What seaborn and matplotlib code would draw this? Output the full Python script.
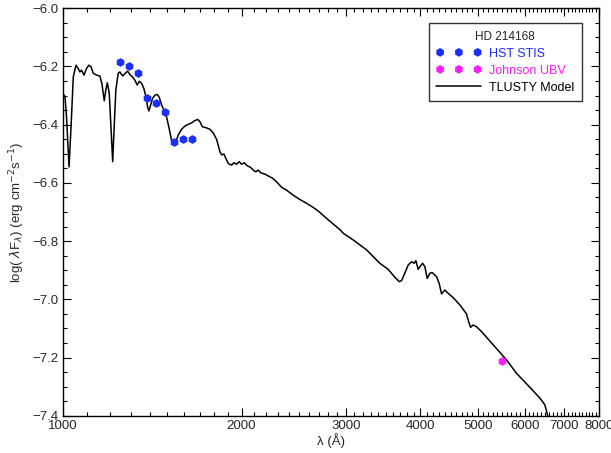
import numpy as np
import pandas as pd
import matplotlib
matplotlib.use("Agg")
import matplotlib.pyplot as plt
from matplotlib.ticker import FixedLocator, FixedFormatter, NullFormatter
import seaborn as sns

# TLUSTY model spectrum
model_wave = [1000, 1008, 1014, 1024, 1032, 1041, 1052, 1061, 1068, 1075, 1085, 1096, 1106,
              1115, 1125, 1140, 1154, 1163, 1174, 1181, 1188, 1197, 1205, 1213, 1220, 1228,
              1239, 1247, 1261, 1274, 1285, 1297, 1310, 1322, 1334, 1345, 1357, 1369, 1380,
              1389, 1396, 1405, 1416, 1429, 1441, 1453, 1467, 1480, 1495, 1510, 1524, 1538,
              1550, 1564, 1585, 1605, 1626, 1648, 1665, 1687, 1702, 1717, 1746, 1769, 1791,
              1816, 1839, 1851, 1868, 1882, 1899, 1924, 1942, 1962, 1982, 2000, 2021, 2044,
              2072, 2098, 2115, 2134, 2153, 2190, 2218, 2256, 2291, 2336, 2382, 2443, 2507,
              2573, 2640, 2702, 2800, 2928, 2968, 3085, 3249, 3420, 3533, 3626, 3687, 3721,
              3769, 3818, 3869, 3909, 3934, 3970, 3996, 4038, 4074, 4111, 4154, 4191, 4263,
              4306, 4346, 4402, 4459, 4546, 4666, 4788, 4819, 4864, 4914, 4978, 5077, 5311,
              5593, 5814, 6123, 6365, 6489, 6547, 6600]
model_flux = [-6.293, -6.304, -6.373, -6.545, -6.407, -6.236, -6.196, -6.207, -6.219, -6.213,
              -6.230, -6.207, -6.196, -6.201, -6.224, -6.230, -6.233, -6.258, -6.318, -6.281,
              -6.256, -6.293, -6.407, -6.527, -6.407, -6.281, -6.224, -6.219, -6.233, -6.224,
              -6.216, -6.228, -6.236, -6.247, -6.264, -6.251, -6.258, -6.276, -6.304, -6.339,
              -6.353, -6.333, -6.310, -6.299, -6.296, -6.306, -6.333, -6.350, -6.373, -6.413,
              -6.453, -6.467, -6.459, -6.436, -6.416, -6.405, -6.399, -6.394, -6.387, -6.382,
              -6.390, -6.407, -6.411, -6.416, -6.428, -6.451, -6.493, -6.504, -6.501, -6.516,
              -6.533, -6.539, -6.531, -6.536, -6.527, -6.536, -6.531, -6.541, -6.547, -6.558,
              -6.562, -6.556, -6.565, -6.570, -6.576, -6.584, -6.596, -6.615, -6.625, -6.642,
              -6.657, -6.670, -6.684, -6.699, -6.727, -6.760, -6.773, -6.796, -6.830, -6.876,
              -6.897, -6.924, -6.939, -6.936, -6.910, -6.882, -6.871, -6.876, -6.867, -6.897,
              -6.888, -6.876, -6.888, -6.928, -6.910, -6.908, -6.922, -6.945, -6.981, -6.968,
              -6.979, -6.994, -7.019, -7.050, -7.071, -7.096, -7.088, -7.094, -7.111, -7.156,
              -7.208, -7.254, -7.302, -7.339, -7.362, -7.391, -7.430]

# HST STIS photometry
stis_wave = [1247, 1293, 1339, 1387, 1436, 1487, 1540, 1595, 1652]
stis_flux = [-6.186, -6.198, -6.221, -6.309, -6.325, -6.357, -6.459, -6.449, -6.449]

# Johnson UBV photometry
ubv_wave = [5486]
ubv_flux = [-7.210]

model = pd.DataFrame({"wave": model_wave, "flux": model_flux})
stis = pd.DataFrame({"wave": stis_wave, "flux": stis_flux})
ubv = pd.DataFrame({"wave": ubv_wave, "flux": ubv_flux})

sns.set_style("ticks")
plt.rcParams["font.family"] = ["Liberation Sans", "DejaVu Sans"]

fig = plt.figure(figsize=(6.11, 4.53), dpi=100)
ax = fig.add_axes([0.103, 0.082, 0.877, 0.900])

blue = "#1a2eff"
magenta = "#ff1aff"

sns.lineplot(data=model, x="wave", y="flux", ax=ax, color="black", lw=1.1,
             label="TLUSTY Model", sort=False)
sns.scatterplot(data=stis, x="wave", y="flux", ax=ax, color=blue, marker="h",
                s=40, edgecolor=blue, linewidth=0, label="HST STIS", zorder=3)
sns.scatterplot(data=ubv, x="wave", y="flux", ax=ax, color=magenta, marker="h",
                s=40, edgecolor=magenta, linewidth=0, label="Johnson UBV", zorder=3)

ax.set_xscale("log")
ax.set_xlim(1000, 8000)
ax.set_ylim(-7.4, -6.0)

major_x = [1000, 2000, 3000, 4000, 5000, 6000, 7000, 8000]
minor_x = [w for w in range(1100, 8000, 100) if w not in major_x]
ax.xaxis.set_major_locator(FixedLocator(major_x))
ax.xaxis.set_major_formatter(FixedFormatter([str(w) for w in major_x]))
ax.xaxis.set_minor_locator(FixedLocator(minor_x))
ax.xaxis.set_minor_formatter(NullFormatter())

ax.set_yticks(np.arange(-7.4, -5.99, 0.2))
ax.set_yticklabels([f"{v:.1f}".replace("-", "\u2212") for v in np.arange(-7.4, -5.99, 0.2)])
ax.set_yticks(np.arange(-7.4, -5.99, 0.05), minor=True)

ax.tick_params(which="both", direction="in", top=True, right=True, labelsize=9.5,
               color="black", width=0.8)
ax.tick_params(which="major", length=6, pad=3)
ax.tick_params(which="minor", length=3)
for s in ax.spines.values():
    s.set_linewidth(1.0)
    s.set_color("black")

ax.set_xlabel("λ (Å)", fontsize=9.5, labelpad=1)
ax.set_ylabel(r"log( $\lambda$F$_\lambda$) (erg cm$^{-2}$s$^{-1}$)", fontsize=9.5, labelpad=4)

handles, labels = ax.get_legend_handles_labels()
order = [labels.index("HST STIS"), labels.index("Johnson UBV"), labels.index("TLUSTY Model")]
leg = ax.legend([handles[i] for i in order], [labels[i] for i in order],
                title="HD 214168", loc="upper right", bbox_to_anchor=(0.968, 0.963),
                borderaxespad=0, scatterpoints=3, scatteryoffsets=[0.5],
                handlelength=3.6, handletextpad=0.6,
                fontsize=9, title_fontsize=8.5, frameon=True, fancybox=False,
                borderpad=0.6, labelspacing=0.4)
leg.get_frame().set_edgecolor("black")
leg.get_frame().set_linewidth(1.0)
colors = {"HST STIS": blue, "Johnson UBV": magenta, "TLUSTY Model": "black"}
for t in leg.get_texts():
    t.set_color(colors.get(t.get_text(), "black"))

fig.savefig("out.png", dpi=100)
